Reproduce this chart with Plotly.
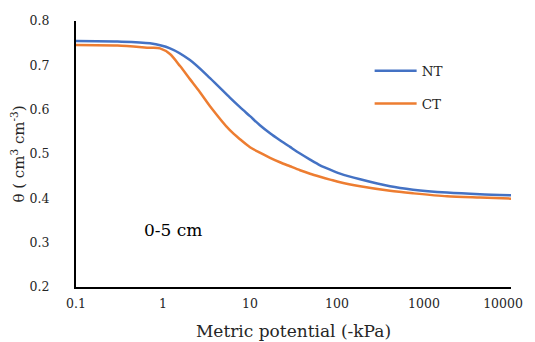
import plotly.graph_objects as go

# Matric potential (-kPa) and volumetric water content
nt_x = [0.1, 0.3, 0.708, 1.203, 2.04, 3.47, 5.87, 7.67, 10.0, 13.0, 17.0, 22.1, 28.8, 37.6, 49.0,
        63.9, 83.3, 108.6, 184.6, 406, 748, 1838, 4400, 10000]
nt_y = [0.7548, 0.7537, 0.7496, 0.7383, 0.7119, 0.6712, 0.6271, 0.6056, 0.5853, 0.5650, 0.5469,
        0.5311, 0.5160, 0.5010, 0.4874, 0.4746, 0.4648, 0.4558, 0.4429, 0.4271, 0.4196, 0.4129,
        0.4090, 0.4068]

ct_x = [0.1, 0.3, 0.708, 0.924, 1.203, 1.57, 2.04, 2.66, 3.47, 5.87, 7.67, 10.0, 13.0, 17.0, 22.1,
        28.8, 37.6, 49.0, 63.9, 83.3, 108.6, 184.6, 406, 748, 1838, 4400, 10000]
ct_y = [0.7458, 0.7446, 0.7397, 0.7383, 0.7254, 0.6983, 0.6689, 0.6395, 0.6079, 0.5537, 0.5333,
        0.5153, 0.5029, 0.4915, 0.4814, 0.4723, 0.4633, 0.4554, 0.4486, 0.4423, 0.4361, 0.4271,
        0.4169, 0.4113, 0.4045, 0.4016, 0.3993]

x_tickvals = [0.1, 1, 10, 100, 1000, 10000]
x_ticktext = ["0.1", "1", "10", "100", "1000", "10000\u00a0\u00a0\u00a0\u00a0"]
y_tickvals = [0.2, 0.3, 0.4, 0.5, 0.6, 0.7, 0.8]

FONT = "DejaVu Serif"

fig = go.Figure()
fig.add_trace(go.Scatter(x=nt_x, y=nt_y, name="NT", mode="lines",
                         line=dict(color="#4472C4", width=2.5, shape="spline", smoothing=0.8),
                         legendgroup="a"))
fig.add_trace(go.Scatter(x=ct_x, y=ct_y, name="CT", mode="lines",
                         line=dict(color="#ED7D31", width=2.5, shape="spline", smoothing=0.8),
                         legendgroup="b"))

fig.update_layout(
    width=535, height=334,
    margin=dict(l=68, r=32, t=13, b=55),
    paper_bgcolor="white", plot_bgcolor="white",
    font=dict(family=FONT, size=13, color="#262626"),
    showlegend=True,
    legend=dict(x=0.675, y=0.87, xanchor="left", yanchor="top",
                font=dict(family=FONT, size=13.5, color="#262626"),
                bgcolor="rgba(0,0,0,0)", tracegroupgap=12, itemwidth=42),
    xaxis=dict(type="log", range=[-1, 4], tickvals=x_tickvals, ticktext=x_ticktext,
               showgrid=False, zeroline=False, showline=True, linecolor="black", linewidth=2,
               ticks="", ticklabelstandoff=4, automargin=False, tickfont=dict(size=12.5),
               title=dict(text="Metric potential (-kPa)", font=dict(family=FONT, size=17))),
    yaxis=dict(range=[0.2, 0.8], tickvals=y_tickvals, tickformat=".1f",
               showgrid=False, zeroline=False, showline=True, linecolor="black", linewidth=2,
               ticks="", ticklabelstandoff=22, automargin=False, tickfont=dict(size=12.5),
               title=dict(text="θ ( cm<sup>3</sup> cm<sup>-3</sup>)", font=dict(family=FONT, size=15))),
    annotations=[dict(x=0.223, y=0.213, xref="paper", yref="paper", text="0-5 cm", showarrow=False,
                      font=dict(family=FONT, size=17, color="black"), xanchor="center", yanchor="middle")],
)

fig.write_html("out.html")
